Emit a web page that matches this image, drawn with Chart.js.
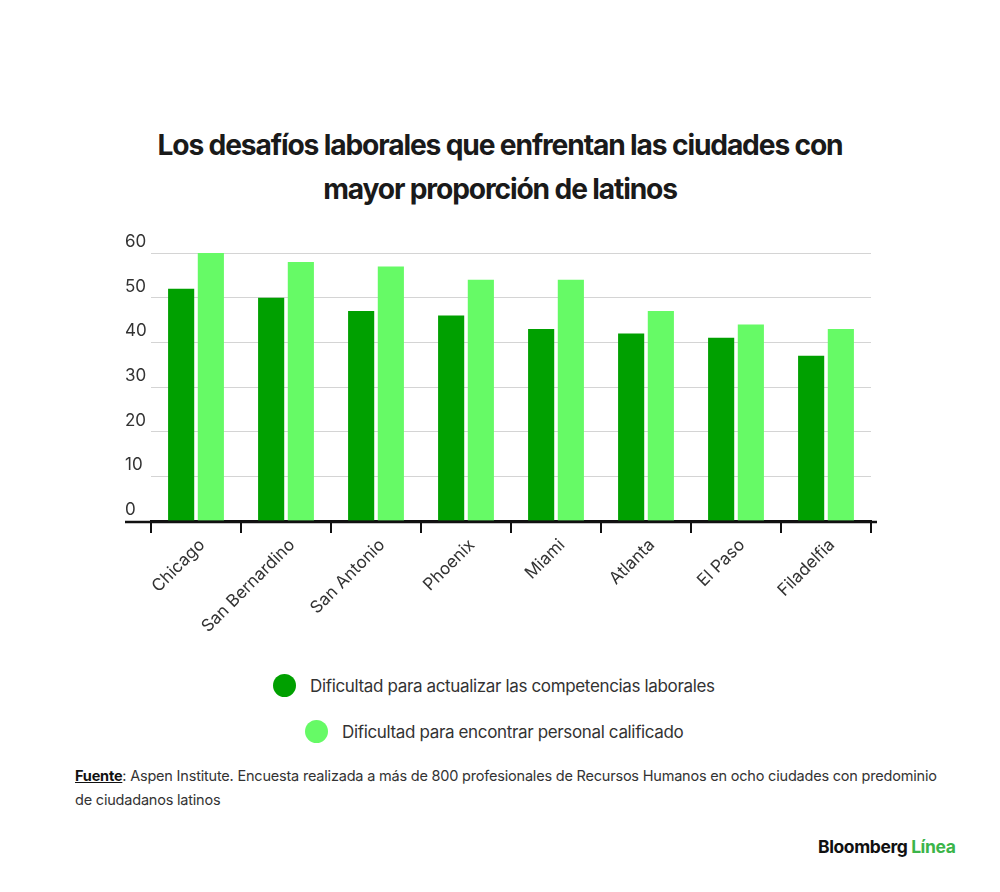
<!DOCTYPE html>
<html><head><meta charset="utf-8">
<script src="https://cdn.jsdelivr.net/npm/chart.js@4"></script>
<style>
html,body{margin:0;padding:0;background:#fff;width:1000px;height:892px;overflow:hidden;font-family:Inter,"Noto Sans",sans-serif;color:#222}
#title{position:absolute;left:0;top:123px;width:1000px;text-align:center;font-weight:700;font-size:28.2px;line-height:44px;letter-spacing:-1.15px;color:#1a1a1a}
#wrap{position:absolute;left:0;top:225px;width:1000px;height:416px}
.leg{position:absolute;display:flex;align-items:center;font-size:17px;letter-spacing:-0.35px;color:#333}
.dot{width:23px;height:23px;border-radius:50%;margin-right:14px}
#foot{position:absolute;left:75px;top:764px;width:870px;font-size:14.5px;line-height:24px;letter-spacing:-0.2px;color:#333}
#foot b{text-decoration:underline;color:#111}
#logo{position:absolute;left:818px;top:836px;font-weight:700;font-size:17.5px;letter-spacing:-0.4px;color:#111}
#logo span{color:#3bb54a}
</style></head><body>
<div id="title">Los desafíos laborales que enfrentan las ciudades con<br>mayor proporción de latinos</div>
<div id="wrap"><canvas id="c"></canvas></div>
<div class="leg" id="leg1" style="left:273px;top:674px"><div class="dot" style="background:#00a000"></div><span>Dificultad para actualizar las competencias laborales</span></div>
<div class="leg" id="leg2" style="left:305px;top:720px"><div class="dot" style="background:#66fa66"></div><span>Dificultad para encontrar personal calificado</span></div>
<div id="foot"><b>Fuente</b>: Aspen Institute. Encuesta realizada a más de 800 profesionales de Recursos Humanos en ocho ciudades con predominio de ciudadanos latinos</div>
<div id="logo">Bloomberg <span>Línea</span></div>
<script>
const categories = ["Chicago","San Bernardino","San Antonio","Phoenix","Miami","Atlanta","El Paso","Filadelfia"];
const seriesNames = ["Dificultad para actualizar las competencias laborales","Dificultad para encontrar personal calificado"];
const competencias = [52,50,47,46,43,42,41,37];
const personal = [60,58,57,54,54,47,44,43];
const yTicks = [0,10,20,30,40,50,60];

const axisExt = {
  id:'axisExt',
  afterDraw(chart){
    const ctx = chart.ctx, ca = chart.chartArea, ys = chart.scales.y;
    ctx.save();
    ctx.strokeStyle = '#111'; ctx.lineWidth = 2.5;
    ctx.beginPath();
    ctx.moveTo(ys.left, ca.bottom + 1);
    ctx.lineTo(ca.right + 6, ca.bottom + 1);
    ctx.stroke();
    ctx.restore();
  }
};

new Chart(document.getElementById('c'), {
  type:'bar',
  data:{
    labels:categories,
    datasets:[
      {label:seriesNames[0], data:competencias, backgroundColor:'#00a000', categoryPercentage:0.66, barPercentage:0.88},
      {label:seriesNames[1], data:personal, backgroundColor:'#66fa66', categoryPercentage:0.66, barPercentage:0.88}
    ]
  },
  options:{
    responsive:true, maintainAspectRatio:false, animation:false,
    layout:{padding:{left:125,right:129,top:28,bottom:0}},
    plugins:{legend:{display:false}, tooltip:{enabled:false}},
    scales:{
      x:{
        afterFit(s){ s.height = 120; },
        grid:{drawOnChartArea:false, drawTicks:true, tickLength:12, color:'#111', lineWidth:2},
        border:{display:true, color:'#111', width:2.5},
        ticks:{minRotation:45, maxRotation:45, padding:2, labelOffset:6, color:'#333', font:{family:'Inter', size:17}, autoSkip:false}
      },
      y:{
        min:0, max:60,
        afterFit(s){ s.width = 26; },
        afterBuildTicks(s){ s.ticks = yTicks.map(v=>({value:v})); },
        grid:{color:'#d4d4d4', lineWidth:1, drawTicks:false},
        border:{display:false},
        ticks:{crossAlign:'far', padding:0, labelOffset:-11, color:'#333', font:{family:'Inter', size:17}}
      }
    }
  },
  plugins:[axisExt]
});
</script>
</body></html>
